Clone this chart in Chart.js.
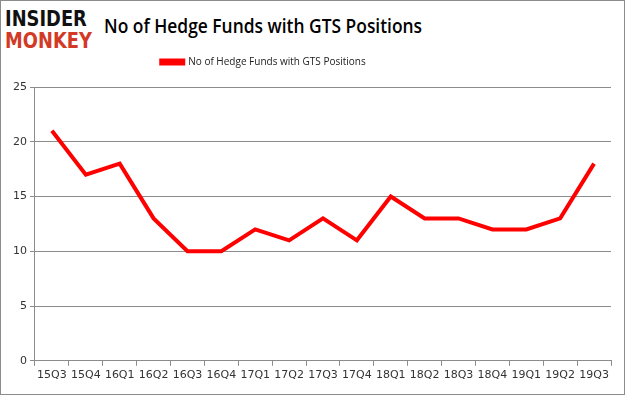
<!DOCTYPE html>
<html>
<head>
<meta charset="utf-8">
<script src="https://cdn.jsdelivr.net/npm/chart.js@4"></script>
<style>
    html, body { margin: 0; padding: 0; background: #fff; }
    #marco {
        position: relative;
        width: 623px;
        height: 393px;
        border: 1px solid #8c8c8c;
        overflow: hidden;
    }
    #logo {
        position: absolute;
        left: 4px;
        top: 7px;
        font-family: "DejaVu Sans", sans-serif;
        font-weight: bold;
        font-size: 21px;
        line-height: 22px;
        transform: scaleX(0.85);
        transform-origin: left top;
    }
    #logo .a { color: #111; }
    #logo .b { color: #d23a26; }
    #titulo {
        position: absolute;
        left: 103px;
        top: 11px;
        font-family: "Open Sans", sans-serif;
        font-weight: 600;
        font-size: 20px;
        color: #000;
        white-space: nowrap;
        transform: scaleX(0.87);
        transform-origin: left top;
    }
    #grafico { position: absolute; left: 0; top: 0; }
</style>
</head>
<body>
<div id="marco">
    <div id="logo"><div class="a">INSIDER</div><div class="b">MONKEY</div></div>
    <div id="titulo">No of Hedge Funds with GTS Positions</div>
    <canvas id="grafico" width="623" height="393"></canvas>
</div>
<script>
const trimestres = ['15Q3', '15Q4', '16Q1', '16Q2', '16Q3', '16Q4', '17Q1', '17Q2', '17Q3',
    '17Q4', '18Q1', '18Q2', '18Q3', '18Q4', '19Q1', '19Q2', '19Q3'];
const fondos = [21, 17, 18, 13, 10, 10, 12, 11, 13, 11, 15, 13, 13, 12, 12, 13, 18];
const serieNombre = 'No of Hedge Funds with GTS Positions';

// espacio extra debajo de la leyenda y leyenda corrida a la izquierda
const ajusteLeyenda = {
    id: 'ajusteLeyenda',
    beforeInit(chart) {
        const fitOriginal = chart.legend.fit;
        chart.legend.fit = function () {
            fitOriginal.bind(chart.legend)();
            this.height += 10;
        };
    },
    afterLayout(chart) {
        chart.legend.left -= 47;
        chart.legend.right -= 47;
    }
};

const ctx = document.getElementById('grafico');

new Chart(ctx, {
    type: 'line',
    data: {
        labels: trimestres,
        datasets: [{
            label: serieNombre,
            data: fondos,
            borderColor: '#ff0000',
            backgroundColor: '#ff0000',
            borderWidth: 4,
            pointRadius: 0,
            tension: 0,
            fill: false
        }]
    },
    plugins: [ajusteLeyenda],
    options: {
        responsive: false,
        animation: false,
        layout: { padding: { top: 54, right: 13, left: 9, bottom: 9 } },
        plugins: {
            legend: {
                position: 'top',
                labels: {
                    boxWidth: 22,
                    boxHeight: 3,
                    padding: 2,
                    color: '#222',
                    font: { family: 'Open Sans', size: 10 }
                }
            },
            tooltip: { enabled: false }
        },
        scales: {
            x: {
                offset: true,
                grid: {
                    display: true,
                    offset: true,
                    drawOnChartArea: false,
                    color: '#8c8c8c',
                    tickLength: 5
                },
                border: { color: '#8c8c8c' },
                ticks: {
                    color: '#333',
                    maxRotation: 0,
                    autoSkip: false,
                    font: { family: 'DejaVu Sans', size: 11 }
                }
            },
            y: {
                min: 0,
                max: 25,
                grid: { color: '#8c8c8c', tickLength: 5 },
                border: { color: '#8c8c8c' },
                ticks: {
                    stepSize: 5,
                    color: '#333',
                    font: { family: 'DejaVu Sans', size: 11 }
                }
            }
        }
    }
});
</script>
</body>
</html>
